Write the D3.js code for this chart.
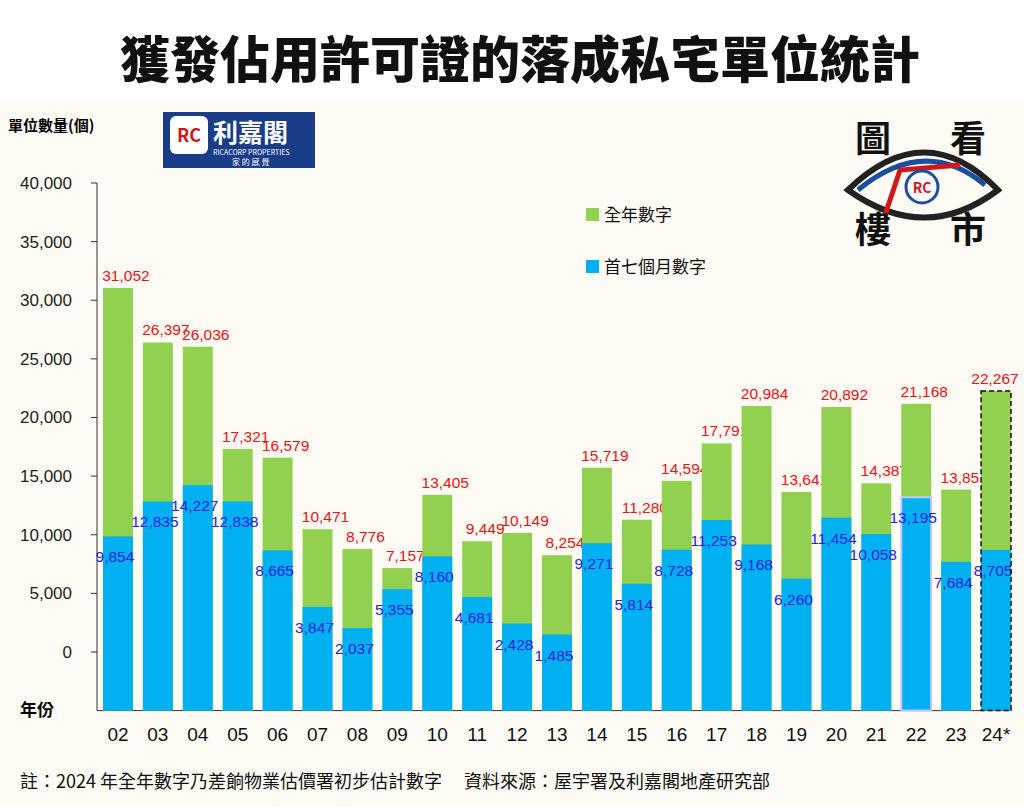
<!DOCTYPE html>
<html>
<head>
<meta charset="utf-8">
<script src="https://cdn.jsdelivr.net/npm/d3@7"></script>
<style>
body { margin: 0; background: #fff; font-family: "Noto Sans CJK TC", sans-serif; }
</style>
</head>
<body>
<svg id="chart" width="1024" height="807"></svg>
<script>
var years = ["02","03","04","05","06","07","08","09","10","11","12","13","14","15","16","17","18","19","20","21","22","23","24*"];
var fullYear = [31052,26397,26036,17321,16579,10471,8776,7157,13405,9449,10149,8254,15719,11280,14594,17791,20984,13641,20892,14387,21168,13851,22267];
var firstSeven = [9854,12835,14227,12838,8665,3847,2037,5355,8160,4681,2428,1485,9271,5814,8728,11253,9168,6260,11454,10058,13195,7684,8705];
var ticks = [0,5000,10000,15000,20000,25000,30000,35000,40000];

var svg = d3.select("#chart");
var fmt = d3.format(",");

svg.append("rect").attr("x", 0).attr("y", 100).attr("width", 1024).attr("height", 707).attr("fill", "#fdfbf3");

svg.append("text").attr("x", 520).attr("y", 78).attr("text-anchor", "middle")
  .attr("font-size", 50).attr("font-weight", 900).attr("fill", "#111")
  .attr("font-family", "Noto Sans CJK TC").text("獲發佔用許可證的落成私宅單位統計");

// bars extend below the 0 line down to the axis, as in the original
var y = d3.scaleLinear().domain([-5000, 40000]).range([710.6, 183]);
var x = d3.scaleBand().domain(years).range([99, 1015]).paddingInner(0.25).paddingOuter(0.1);
var base = y(-5000);

// y axis
svg.append("line").attr("x1", 97).attr("x2", 97).attr("y1", 183).attr("y2", base).attr("stroke", "#333");
svg.selectAll(".tick").data(ticks).enter().append("line")
  .attr("x1", 91).attr("x2", 97).attr("y1", d => y(d)).attr("y2", d => y(d)).attr("stroke", "#333");
svg.selectAll(".ytl").data(ticks).enter().append("text")
  .attr("x", 72).attr("y", d => y(d) + 6).attr("text-anchor", "end")
  .attr("font-size", 17).attr("fill", "#222").attr("font-family", "Arial, Liberation Sans")
  .text(fmt);
svg.append("line").attr("x1", 97).attr("x2", 1012).attr("y1", base).attr("y2", base).attr("stroke", "#333");

var bw = x.bandwidth();
var g = svg.selectAll(".bar").data(years).enter().append("g");
g.append("rect").attr("x", d => x(d)).attr("width", bw)
  .attr("y", (d, i) => y(fullYear[i])).attr("height", (d, i) => base - y(fullYear[i]))
  .attr("fill", "#92d050");
g.append("rect").attr("x", d => x(d)).attr("width", bw)
  .attr("y", (d, i) => y(firstSeven[i])).attr("height", (d, i) => base - y(firstSeven[i]))
  .attr("fill", "#00b0f0")
  .attr("stroke", d => d === "22" ? "#c8c8ff" : "none").attr("stroke-width", 2);
// dashed outline on the estimated year
svg.append("rect").attr("x", x("24*")).attr("width", bw)
  .attr("y", y(fullYear[22])).attr("height", base - y(fullYear[22]))
  .attr("fill", "none").attr("stroke", "#111").attr("stroke-width", 1.5).attr("stroke-dasharray", "5,3");

g.append("text").attr("x", d => Math.min(x(d) + bw / 2 + 8, 995))
  .attr("y", (d, i) => y(fullYear[i]) - 7)
  .attr("text-anchor", "middle").attr("font-size", 15.5).attr("fill", "#ee1111")
  .attr("font-family", "Arial, Liberation Sans").text((d, i) => fmt(fullYear[i]));
g.append("text").attr("x", d => x(d) + bw / 2 - 3).attr("y", (d, i) => y(firstSeven[i]) + 26)
  .attr("text-anchor", "middle").attr("font-size", 15.5).attr("fill", "#2222dd")
  .attr("font-family", "Arial, Liberation Sans").text((d, i) => fmt(firstSeven[i]));
g.append("text").attr("x", d => x(d) + bw / 2).attr("y", 741).attr("text-anchor", "middle")
  .attr("font-size", 19).attr("fill", "#111").attr("font-family", "Arial, Liberation Sans")
  .text(d => d);

svg.append("text").attr("x", 20).attr("y", 716).attr("font-size", 17).attr("font-weight", 700).text("年份");
svg.append("text").attr("x", 8).attr("y", 131).attr("font-size", 15).attr("font-weight", 700).text("單位數量(個)");

// legend
var leg = [["全年數字", "#92d050", 215], ["首七個月數字", "#00b0f0", 267]];
leg.forEach(function(l) {
  svg.append("rect").attr("x", 586).attr("y", l[2] - 7).attr("width", 13).attr("height", 13).attr("fill", l[1]);
  svg.append("text").attr("x", 604).attr("y", l[2] + 6).attr("font-size", 17).attr("fill", "#111").text(l[0]);
});

// Ricacorp logo box
svg.append("rect").attr("x", 163).attr("y", 112).attr("width", 152).attr("height", 56).attr("fill", "#1a3d8a");
svg.append("rect").attr("x", 170).attr("y", 116).attr("width", 38).attr("height", 38).attr("fill", "#fff").attr("rx", 6);
svg.append("text").attr("x", 189).attr("y", 142).attr("text-anchor", "middle").attr("font-size", 18).attr("font-weight", 700).attr("fill", "#d01818").text("RC");
svg.append("text").attr("x", 213).attr("y", 142).attr("font-size", 25).attr("font-weight", 700).attr("fill", "#fff").text("利嘉閣");
svg.append("text").attr("x", 213).attr("y", 155).attr("font-size", 7).attr("fill", "#fff").text("RICACORP PROPERTIES");
svg.append("text").attr("x", 232).attr("y", 165).attr("font-size", 8).attr("fill", "#fff").text("家 的 感 覺");

// eye logo
svg.append("path").attr("d", "M848,190 Q925,115 998,190 Q925,245 848,190 Z").attr("fill", "none").attr("stroke", "#222").attr("stroke-width", 6);
svg.append("path").attr("d", "M858,190 Q925,135 985,185").attr("fill", "none").attr("stroke", "#1a4fa0").attr("stroke-width", 5);
svg.append("path").attr("d", "M885,215 L900,170 L960,165").attr("fill", "none").attr("stroke", "#d01818").attr("stroke-width", 5);
svg.append("circle").attr("cx", 922).attr("cy", 187).attr("r", 16).attr("fill", "#fff").attr("stroke", "#1a4fa0").attr("stroke-width", 3);
svg.append("text").attr("x", 922).attr("y", 193).attr("text-anchor", "middle").attr("font-size", 14).attr("font-weight", 700).attr("fill", "#d01818").text("RC");
[["圖", 873, 152], ["看", 968, 152], ["樓", 873, 243], ["市", 968, 243]].forEach(function(t) {
  svg.append("text").attr("x", t[1]).attr("y", t[2]).attr("text-anchor", "middle")
    .attr("font-size", 36).attr("font-weight", 700).attr("font-family", "Noto Sans CJK TC").attr("fill", "#111").text(t[0]);
});

svg.append("text").attr("x", 20).attr("y", 788).attr("font-size", 18).attr("fill", "#111")
  .text("註：2024 年全年數字乃差餉物業估價署初步估計數字　 資料來源：屋宇署及利嘉閣地產研究部");
</script>
</body>
</html>
